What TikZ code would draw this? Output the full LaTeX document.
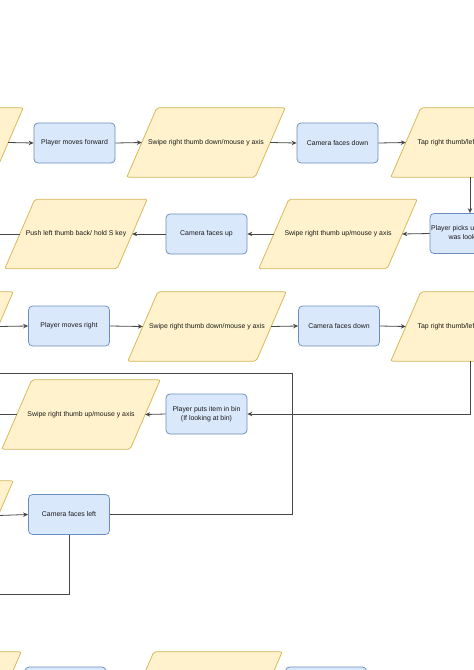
\documentclass[tikz,border=0pt]{standalone}
\usepackage{fontspec}
\setmainfont{Liberation Sans}
\usetikzlibrary{arrows.meta,calc}
\pgfdeclarelayer{background}
\pgfsetlayers{background,main}
\definecolor{yfill}{HTML}{FFF2CC}
\definecolor{ydraw}{HTML}{D6B656}
\definecolor{bfill}{HTML}{DAE8FC}
\definecolor{bdraw}{HTML}{6C8EBF}
\definecolor{txt}{HTML}{1A1A1A}
\newcommand{\pgram}[4]{%
  \node[paratext,minimum width=#3] (#1) at (#2) {#4};
  \begin{pgfonlayer}{background}
    \draw[parashape] ([xshift=15pt]#1.north west) -- ([xshift=15pt]#1.north east)
      -- ([xshift=-15pt]#1.south east) -- ([xshift=-15pt]#1.south west) -- cycle;
  \end{pgfonlayer}}
\begin{document}
\begin{tikzpicture}[x=1pt,y=-1pt,
  bluebox/.style={rectangle, rounded corners=4pt, draw=bdraw, fill=bfill, line width=0.75pt,
    minimum width=81pt, minimum height=40pt, inner sep=1pt, align=center,
    font=\fontsize{6.9}{9}\selectfont, text=txt},
  paratext/.style={rectangle, inner sep=0pt, minimum height=69pt, align=center,
    font=\fontsize{6.9}{9}\selectfont, text=txt},
  parashape/.style={draw=ydraw, fill=yfill, line width=0.75pt, rounded corners=2pt},
  conn/.style={draw=black!72, line width=0.8pt},
  arr/.style={conn, -{Stealth[length=5pt,width=4.5pt]}}]
\useasboundingbox (0,0) rectangle (474,670);
\clip (0,0) rectangle (474,670);

% row 1
\pgram{lp1}{-56,142.5}{128pt}{}
\node[bluebox] (fwd) at (74.5,143) {Player moves forward};
\pgram{swd1}{206,142.5}{128pt}{Swipe right thumb down/mouse y axis}
\node[bluebox] (cdown1) at (337.5,143) {Camera faces down};
\pgram{tap1}{470,142.5}{128pt}{Tap right thumb/left mouse click\hspace*{8pt}}

% row 2
\node[bluebox] (picks) at (470.5,233.5) {Player picks up the item it\\was looking at};
\pgram{swu1}{338,234}{128pt}{Swipe right thumb up/mouse y axis}
\node[bluebox] (cup) at (206.5,234) {Camera faces up};
\pgram{push}{76,234}{112pt}{Push left thumb back/ hold S key}
\coordinate (out2) at (-20,234);

% row 3
\pgram{lp3}{-66,326.5}{128pt}{}
\node[bluebox] (right) at (69,326) {Player moves right};
\pgram{swd2}{207,326.5}{128pt}{Swipe right thumb down/mouse y axis}
\node[bluebox] (cdown2) at (339,326) {Camera faces down};
\pgram{tap2}{470,326.5}{128pt}{Tap right thumb/left mouse click\hspace*{8pt}}

% row 4
\node[bluebox] (bin) at (206.5,414) {Player puts item in bin\\(If looking at bin)};
\pgram{swu2}{81,414.5}{128pt}{Swipe right thumb up/mouse y axis}
\coordinate (out4) at (-20,414.5);

% row 5
\pgram{lp5}{-66,515.5}{128pt}{}
\node[bluebox] (cleft) at (69,514.5) {Camera faces left};
\coordinate (turnA) at (292,514.5);
\coordinate (turnB) at (292,373);
\coordinate (outA) at (-20,373);
\coordinate (outB) at (-20,594);

% row 6
\pgram{lp6}{-58,686.5}{128pt}{}
\node[bluebox] (bot1) at (65.5,687) {};
\pgram{bp6}{203,686.5}{128pt}{}
\node[bluebox] (bot2) at (326,687) {};

% connectors
\draw[arr] (lp1.east) -- (fwd.west);
\draw[arr] (fwd.east) -- (swd1.west);
\draw[arr] (swd1.east) -- (cdown1.west);
\draw[arr] (cdown1.east) -- (tap1.west);
\draw[arr] (tap1.south) -- (tap1.south |- picks.north);
\draw[arr] (picks.west) -- (swu1.east);
\draw[arr] (swu1.west) -- (cup.east);
\draw[arr] (cup.west) -- (push.east);
\draw[conn] (push.west) -- (out2);

\draw[arr] (lp3.east) -- (right.west);
\draw[arr] (right.east) -- (swd2.west);
\draw[arr] (swd2.east) -- (cdown2.west);
\draw[arr] (cdown2.east) -- (tap2.west);
\draw[arr] (tap2.south) |- (bin.east);
\draw[arr] (bin.west) -- (swu2.east);
\draw[conn] (swu2.west) -- (out4);

\draw[arr] (lp5.east) -- (cleft.west);
\draw[conn] (cleft.east) -- (turnA) -- (turnB) -- (outA);
\draw[conn] (cleft.south) |- (outB);
\end{tikzpicture}
\end{document}
